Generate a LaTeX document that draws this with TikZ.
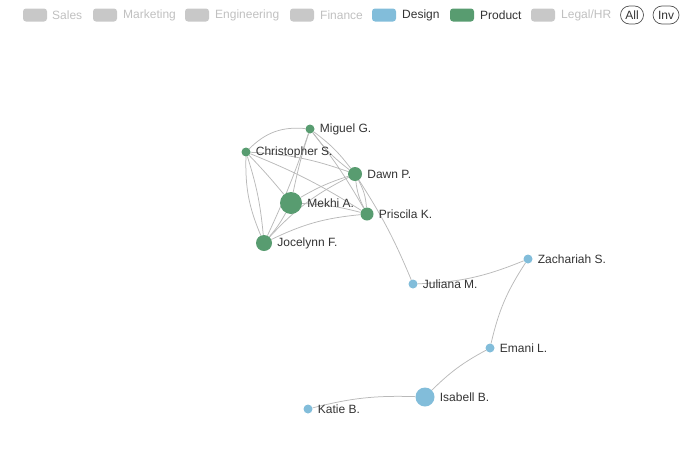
\documentclass[tikz,border=0pt]{standalone}
\usepackage{fontspec}
\setmainfont{Liberation Sans}
\usetikzlibrary{backgrounds}
\definecolor{product}{RGB}{88,156,112}
\definecolor{design}{RGB}{130,189,218}
\definecolor{off}{RGB}{200,200,200}
\definecolor{offtext}{RGB}{192,192,192}
\definecolor{link}{RGB}{185,185,185}
\definecolor{ink}{RGB}{51,51,51}
\begin{document}
\begin{tikzpicture}[x=1pt, y=-1pt,
	main/.style = {circle, fill, inner sep=0pt, minimum size=9pt},
	lbl/.style = {font=\fontsize{12}{14}\selectfont, text=ink, inner sep=0pt},
	edge/.style = {draw=link, line width=0.75pt},
	key/.style = {draw=none, fill, rounded corners=3pt, minimum width=24pt, minimum height=13pt, inner sep=0pt},
	keytext/.style = {font=\fontsize{12}{14}\selectfont, anchor=west, inner sep=0pt},
	btn/.style = {draw=ink!85, line width=0.7pt, rounded corners=9pt, minimum height=18pt, inner sep=2pt, font=\fontsize{12}{14}\selectfont, text=ink}]
			\useasboundingbox (0,0) rectangle (700,466);
			% legend
			\node[key, color = off] (k1) at (35,15) {};
			\node[keytext, text = offtext] (t1) at (52,15) {Sales};
			\node[key, color = off] (k2) at (105,15) {};
			\node[keytext, text = offtext] (t2) at (123,15) {Marketing};
			\node[key, color = off] (k3) at (197,15) {};
			\node[keytext, text = offtext] (t3) at (215,15) {Engineering};
			\node[key, color = off] (k4) at (302,15) {};
			\node[keytext, text = offtext] (t4) at (320,15) {Finance};
			\node[key, color = design] (k5) at (384,15) {};
			\node[keytext, text = ink] (t5) at (402,15) {Design};
			\node[key, color = product] (k6) at (462,15) {};
			\node[keytext, text = ink] (t6) at (480,15) {Product};
			\node[key, color = off] (k7) at (543,15) {};
			\node[keytext, text = offtext] (t7) at (561,15) {Legal/HR};
			\node[btn, minimum width=23pt] (all) at (632,15) {All};
			\node[btn, minimum width=26pt] (inv) at (666,15) {Inv};
			% product
			\node[main, color = product, label={[lbl, label distance=5pt]right:Miguel G.}] (miguel) at (310,129) {};
			\node[main, color = product, label={[lbl, label distance=5pt]right:Christopher S.}] (christopher) at (246,152) {};
			\node[main, color = product, minimum size=14pt, label={[lbl, label distance=5pt]right:Dawn P.}] (dawn) at (355,174) {};
			\node[main, color = product, minimum size=22pt, label={[lbl, label distance=5pt]right:Mekhi A.}] (mekhi) at (291,203) {};
			\node[main, color = product, minimum size=13pt, label={[lbl, label distance=5pt]right:Priscila K.}] (priscila) at (367,214) {};
			\node[main, color = product, minimum size=16pt, label={[lbl, label distance=5pt]right:Jocelynn F.}] (jocelynn) at (264,243) {};
			% design
			\node[main, color = design, label={[lbl, label distance=5pt]right:Juliana M.}] (juliana) at (413,284) {};
			\node[main, color = design, label={[lbl, label distance=5pt]right:Zachariah S.}] (zachariah) at (528,259) {};
			\node[main, color = design, label={[lbl, label distance=5pt]right:Emani L.}] (emani) at (490,348) {};
			\node[main, color = design, minimum size=19pt, label={[lbl, label distance=5pt]right:Isabell B.}] (isabell) at (425,397) {};
			\node[main, color = design, label={[lbl, label distance=5pt]right:Katie B.}] (katie) at (308,409) {};
			% links
			\begin{scope}[on background layer]
			\draw[edge] (christopher) to[bend left=25] (miguel);
			\draw[edge] (miguel) to[bend left=3] (jocelynn);
			\draw[edge] (miguel) to[bend right=3] (mekhi);
			\draw[edge] (miguel) to[bend left=8] (dawn);
			\draw[edge] (miguel) to[bend right=8] (dawn);
			\draw[edge] (miguel) to[bend left=4] (priscila);
			\draw[edge] (christopher) to[bend left=8] (dawn);
			\draw[edge] (christopher) to[bend left=2] (mekhi);
			\draw[edge] (christopher) to[bend left=5] (priscila);
			\draw[edge] (christopher) to[bend right=12] (jocelynn);
			\draw[edge] (christopher) to[bend left=6] (jocelynn);
			\draw[edge] (dawn) to[bend right=6] (mekhi);
			\draw[edge] (dawn) to[bend right=10] (jocelynn);
			\draw[edge] (dawn) to[bend left=12] (priscila);
			\draw[edge] (dawn) to[bend right=10] (priscila);
			\draw[edge] (mekhi) to[bend left=6] (priscila);
			\draw[edge] (mekhi) to[bend left=6] (jocelynn);
			\draw[edge] (jocelynn) to[bend left=10] (priscila);
			\draw[edge] (dawn) to[bend left=5] (juliana);
			\draw[edge] (juliana) to[bend right=10] (zachariah);
			\draw[edge] (zachariah) to[bend right=10] (emani);
			\draw[edge] (emani) to[bend right=8] (isabell);
			\draw[edge] (isabell) to[bend right=8] (katie);
			\end{scope}
		\end{tikzpicture}
\end{document}
